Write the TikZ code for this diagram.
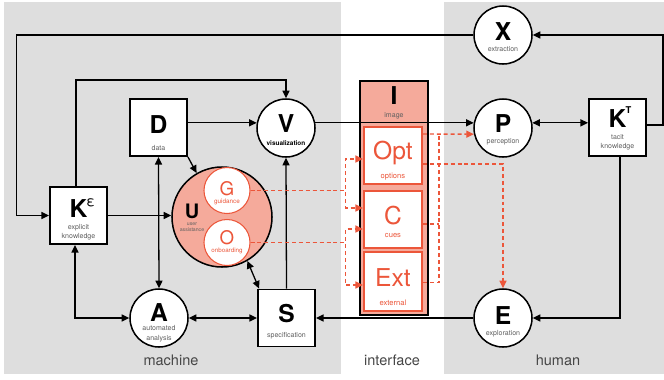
\documentclass[tikz,border=0pt]{standalone}
\usepackage{fontspec}
\setmainfont{TeX Gyre Heros}
\usetikzlibrary{arrows.meta,calc,positioning}
\definecolor{bggray}{RGB}{222,222,222}
\definecolor{salmon}{RGB}{245,170,155}
\definecolor{redline}{RGB}{236,86,58}
\definecolor{subgray}{RGB}{95,95,95}
\definecolor{regiongray}{RGB}{70,70,70}

\begin{document}
\begin{tikzpicture}[x=0.03cm,y=-0.03cm,
  >={Triangle[length=6.5pt,width=6pt]},
  box/.style={draw,line width=1.6pt,fill=white,minimum size=1.71cm,inner sep=0pt},
  circ/.style={circle,draw,line width=1.3pt,fill=white,minimum size=1.74cm,inner sep=0pt},
  ltr/.style={font=\fontsize{21}{21}\selectfont\bfseries,text height=15pt,text depth=#1},
  ltr/.default=6pt,
  rbox/.style={draw=redline,line width=1.7pt,fill=white,minimum width=1.74cm,minimum height=1.71cm,
               inner sep=0pt,font=\fontsize{21}{21}\selectfont,text=redline,text height=15pt,text depth=#1},
  rbox/.default=6.8pt,
  rcirc/.style={circle,draw=redline,line width=0.9pt,fill=white,minimum size=1.38cm,inner sep=0pt,
                font=\fontsize{16}{16}\selectfont,text=redline,text height=11.5pt,text depth=#1},
  sub/.style={font=\fontsize{6}{7.7}\selectfont,text=subgray,align=center,text height={},text depth={},inner sep=1pt},
  rsub/.style={sub,font=\fontsize{6.5}{7}\selectfont,text=redline},
  nm/.style 2 args={label={[sub,yshift=-#1]center:#2}},
  rnm/.style 2 args={label={[rsub,yshift=-#1]center:#2}},
  ln/.style={line width=1.1pt},
  dsh/.style={redline,line width=1.2pt,dash pattern=on 3.4pt off 2.5pt},
  region/.style={font=\fontsize{12.4}{13}\selectfont,text=regiongray,text depth=0pt}]
  \useasboundingbox (0,0) rectangle (664,379);
  % regions
  \fill[bggray] (4,2) rectangle (341,374);
  \fill[bggray] (444,2) rectangle (664,374);
  \node[region] (mach) at (171,360) {machine};
  \node[region] (intf) at (392,360) {interface};
  \node[region] (hum) at (558,360) {human};
  % interface
  \node[draw,line width=1.6pt,fill=salmon,minimum width=2.04cm,minimum height=7.02cm] (I) at (394,198) {};
  \node[ltr=0pt] (I-let) at (394,96) {I};
  \node[sub] (I-sub) at (394,116) {image};
  \node[rbox=7.7pt,rnm={18pt}{options}] (Opt) at (393,155.5) {Opt};
  \node[rbox,rnm={13.8pt}{cues}] (C) at (393,219.5) {C};
  \node[rbox,minimum height=1.77cm,rnm={18pt}{external}] (Ext) at (393,281.5) {Ext};
  % machine
  \node[box,ltr=5.1pt,nm={17.4pt}{data}] (D) at (158.5,127.5) {D};
  \node[circ,ltr=6.8pt,label={[sub,text=black,font=\fontsize{5.5}{7}\selectfont\bfseries,yshift=-12.8pt]center:visualization}] (V) at (286,128) {V};
  \node[box,ltr=11pt,nm={14.2pt}{explicit\\knowledge}] (Ke) at (78.5,215.5)
    {K\rlap{\kern-0.8pt\raisebox{9.8pt}{\fontsize{12}{12}\selectfont\mdseries ε}}};
  \node[circ,fill=salmon,minimum size=3cm] (U) at (222,217) {};
  \node[font=\fontsize{17}{17}\selectfont\bfseries,text height=12.3pt,text depth=0pt,inner sep=0pt] (U-let) at (192,211) {U};
  \node[sub,font=\fontsize{4.4}{5.1}\selectfont] (U-sub) at (192,226.8) {user\\assistance};
  \node[rcirc=2.2pt,label={[rsub,font=\fontsize{5.4}{6}\selectfont,yshift=-10pt]center:guidance}] (G) at (227,190.5) {G};
  \node[rcirc=8.5pt,label={[rsub,font=\fontsize{5.3}{6}\selectfont,yshift=-7pt]center:onboarding}] (O) at (227,242.5) {O};
  \node[circ,ltr=8.5pt,nm={13.4pt}{automated\\analysis}] (A) at (159,318) {A};
  \node[box,ltr=7.7pt,nm={14.7pt}{specification}] (S) at (286.5,318) {S};
  % human
  \node[circ,ltr,nm={12.2pt}{extraction}] (X) at (503,35) {X};
  \node[circ,ltr=6.8pt,nm={11.6pt}{perception}] (P) at (503,128) {P};
  \node[box,ltr=14.5pt,nm={12.4pt}{tacit\\knowledge}] (KT) at (617.5,127.5)
    {K\rlap{\kern-0.6pt\raisebox{12.4pt}{\fontsize{8}{8}\selectfont T}}};
  \node[circ,ltr=4.3pt,nm={13.6pt}{exploration}] (E) at (503,318) {E};
  % black connectors
  \draw[ln,->] (X.west) -- ++(-457,0) |- (Ke.west);
  \draw[ln,->] ($(KT.east)+(0,-2.5)$) -- ++(16,0) |- (X.east);
  \draw[ln,->] ($(Ke.north)+(-2.5,0)$) -- ++(0,-106) -| (V.north);
  \draw[ln,->] (D.east |- V.170) -- (V.170);
  \draw[ln,->] (V.10) -- (P.170);
  \draw[ln,<->] (P.10) -- (KT.west |- P.10);
  \draw[ln,->] (D.south east) -- (U.120);
  \draw[ln,<->] (D.south) -- (A.north);
  \draw[ln,->] (Ke.east) -- (Ke.east -| U.west);
  \draw[ln,<->] ($(Ke.south)+(-3.5,0)$) |- (A.west);
  \draw[ln,<->] (A.east) -- (S.west);
  \draw[ln,<->] (U.-60) -- ($(S.north west)+(2,0)$);
  \draw[ln,->] (S.north) -- (V.south);
  \draw[ln,->] (E.west) -- (S.east);
  \draw[ln,->] ($(KT.south)+(2.5,0)$) |- (E.east);
  % dashed red connectors
  \draw[dsh,->] (G.east) -- ++(95,0) |- ($(Opt.west)+(0,3.5)$);
  \draw[dsh,->] (G.east) -- ++(95,0) |- ($(C.west)+(0,-11.5)$);
  \draw[dsh,->] (O.east) -- ++(95,0) |- ($(C.west)+(0,9.5)$);
  \draw[dsh,->] (O.east) -- ++(95,0) |- ($(Ext.west)+(0,3.5)$);
  \draw[dsh,->] ($(Opt.east)+(0,-21.5)$) -- (P.192);
  \draw[dsh] ($(Ext.east)+(0,1)$) -| ($(Opt.east)+(16,-21.5)$);
  \draw[dsh] ($(C.east)+(0,4.5)$) -- ++(16,0);
  \draw[dsh,->] ($(Opt.east)+(0,8.5)$) -| (E.north);
\end{tikzpicture}
\end{document}
